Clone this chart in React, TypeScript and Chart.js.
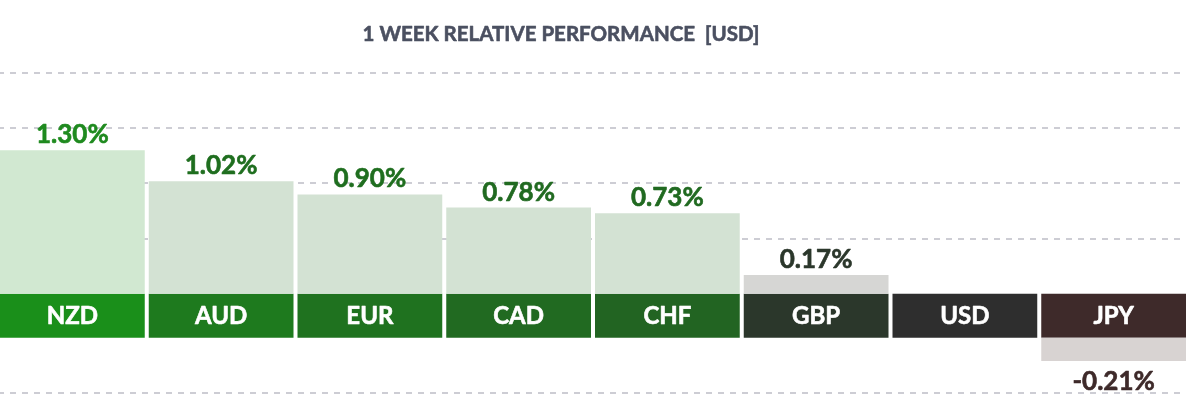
import React, { useEffect, useRef } from "react";
import { Chart, registerables } from "chart.js";

Chart.register(...registerables);

const TITLE = "1 WEEK RELATIVE PERFORMANCE  [USD]";
const currencies = ["NZD", "AUD", "EUR", "CAD", "CHF", "GBP", "USD", "JPY"];
const changes = [1.3, 1.02, 0.9, 0.78, 0.73, 0.17, 0, -0.21];
const valueLabels = ["1.30%", "1.02%", "0.90%", "0.78%", "0.73%", "0.17%", "", "-0.21%"];
const bandColors = ["#1a8f1a", "#1e7a1e", "#1f721f", "#216a21", "#226422", "#2b372b", "#2e2e2e", "#3e2a2a"];
const barColors = ["#d1e8d1", "#d3e2d3", "#d3e2d3", "#d3e2d3", "#d3e2d3", "#d6d6d4", "#d6d6d4", "#d8d3d2"];
const valueColors = ["#1f8a1f", "#1f6e1f", "#1f6e1f", "#216a21", "#216a21", "#2b372b", "#2e2e2e", "#3e2a2a"];

const BAND = 0.4; // height of the label band, in % units
const GRID_STEPS = [0.5, 1.0, 1.5, 2.0];
const AXIS_MIN = -0.5;

function heavyText(ctx: CanvasRenderingContext2D, text: string, x: number, y: number, color: string, w: number) {
  ctx.fillStyle = color;
  ctx.strokeStyle = color;
  ctx.lineWidth = w;
  ctx.lineJoin = "round";
  ctx.fillText(text, x, y);
  ctx.strokeText(text, x, y);
}

export default function App() {
  const ref = useRef<HTMLCanvasElement | null>(null);

  useEffect(() => {
    const canvas = ref.current;
    if (!canvas) return;

    const labelPlugin = {
      id: "labels",
      afterDraw(chart: any) {
        const ctx = chart.ctx;
        const meta = chart.getDatasetMeta(1);
        const barMeta = chart.getDatasetMeta(0);
        const ys = chart.scales.y;
        ctx.save();
        // title
        ctx.font = "bold 20.5px Lato";
        ctx.textAlign = "center";
        ctx.textBaseline = "alphabetic";
        heavyText(ctx, TITLE, 563, 41, "#4b5061", 0.6);
        // band labels
        ctx.font = "bold 24px Lato";
        ctx.textBaseline = "middle";
        meta.data.forEach((el: any, i: number) => {
          const yMid = (ys.getPixelForValue(0) + ys.getPixelForValue(BAND)) / 2;
          heavyText(ctx, currencies[i], el.x, yMid + 1, "#ffffff", 0.6);
        });
        // value labels
        ctx.font = "bold 26px Lato";
        ctx.textBaseline = "alphabetic";
        barMeta.data.forEach((el: any, i: number) => {
          const v = changes[i];
          if (!valueLabels[i]) return;
          if (v >= 0) {
            const top = ys.getPixelForValue(BAND + v);
            heavyText(ctx, valueLabels[i], el.x, top - 7, valueColors[i], 0.6);
          } else {
            const bottom = ys.getPixelForValue(v);
            heavyText(ctx, valueLabels[i], el.x, bottom + 29, valueColors[i], 0.6);
          }
        });
        ctx.restore();
      },
    };

    const chart = new Chart(canvas, {
      type: "bar",
      data: {
        labels: currencies,
        datasets: [
          {
            data: changes.map((v) => (v >= 0 ? [BAND, BAND + v] : [v, 0])) as any,
            backgroundColor: barColors,
            borderWidth: 0,
            grouped: false,
            barPercentage: 144.75 / 148.75,
            categoryPercentage: 1,
          },
          {
            data: currencies.map(() => [0, BAND]) as any,
            backgroundColor: bandColors,
            borderWidth: 0,
            grouped: false,
            barPercentage: 144.75 / 148.75,
            categoryPercentage: 1,
          },
        ],
      },
      options: {
        animation: false,
        responsive: false,
        devicePixelRatio: 1,
        layout: { padding: { top: 73, bottom: 11, left: 0, right: 0 } },
        plugins: { legend: { display: false }, tooltip: { enabled: false }, title: { display: false } },
        scales: {
          x: { display: false },
          y: {
            z: 1,
            min: AXIS_MIN,
            max: BAND + GRID_STEPS[GRID_STEPS.length - 1],
            border: { display: false, dash: [6, 6] },
            ticks: { display: false },
            afterBuildTicks: (axis: any) => {
              axis.ticks = [AXIS_MIN, ...GRID_STEPS.map((s) => BAND + s)].map((value) => ({ value }));
            },
            grid: {
              color: "#cdcdd4",
              lineWidth: 2,
              drawTicks: false,
            },
            afterFit: (axis: any) => {
              axis.width = 0;
            },
          } as any,
        },
      },
      plugins: [labelPlugin],
    });

    return () => chart.destroy();
  }, []);

  return (
    <div style={{ position: "fixed", left: 0, top: 0, width: 1186, height: 404, overflow: "hidden", background: "#fff" }}>
      <div style={{ position: "absolute", left: -2, top: 0, width: 1190, height: 404 }}>
        <canvas ref={ref} width={1190} height={404} />
      </div>
    </div>
  );
}
